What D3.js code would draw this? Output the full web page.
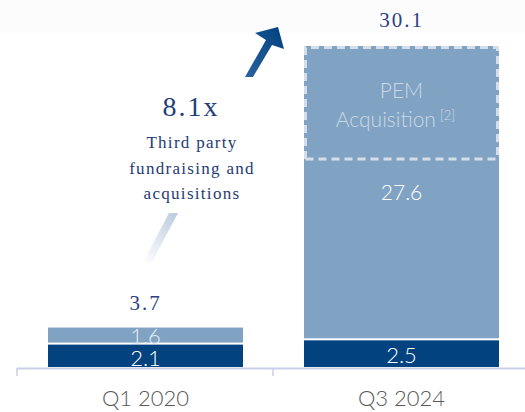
<!DOCTYPE html>
<html><head><meta charset="utf-8">
<script src="https://cdn.jsdelivr.net/npm/d3@7/dist/d3.min.js"></script>
<style>body{margin:0;background:#fff}svg{display:block}</style>
</head><body>
<svg id="c" width="525" height="412"></svg>
<script>
const categories = ["Q1 2020", "Q3 2024"];
const ownValues = [2.1, 2.5];
const thirdPartyValues = [1.6, 27.6];
const totals = ["3.7", "30.1"];
const pemValue = 10.6;
const multipleLabel = "8.1x";
const noteLines = ["Third party", "fundraising and", "acquisitions"];

const svg = d3.select("#c");
const W = 525, H = 412;
const darkC = "#02427f", lightC = "#81a3c3";
const sansF = "'Lato Light', Lato, sans-serif";

svg.append("rect").attr("x",0).attr("y",0).attr("width",W).attr("height",33).attr("fill","#fcfcfc");

const x = d3.scaleBand().domain(categories).range([17, 529]).paddingInner(0).paddingOuter(0);
const y = d3.scaleLinear().domain([0, 30.1]).range([367, 46]);
const barPad = 31, barW = 195;

const defs = svg.append("defs");
const g1 = defs.append("linearGradient").attr("id","arrowG").attr("x1","0").attr("y1","1").attr("x2","1").attr("y2","0");
g1.append("stop").attr("offset","0").attr("stop-color","#2a62a0");
g1.append("stop").attr("offset","1").attr("stop-color","#00407e");
const g2 = defs.append("linearGradient").attr("id","slashG").attr("x1","1").attr("y1","0").attr("x2","0").attr("y2","1");
g2.append("stop").attr("offset","0").attr("stop-color","#b9cade");
g2.append("stop").attr("offset","1").attr("stop-color","#ffffff");

const data = categories.map((c,i)=>({c, own: ownValues[i], tp: thirdPartyValues[i], total: totals[i]}));

const bars = svg.append("g");
data.forEach((d,i)=>{
  const bx = x(d.c) + barPad;
  bars.append("rect").attr("x",bx).attr("width",barW)
    .attr("y",y(d.own)).attr("height",y(0)-y(d.own)).attr("fill",darkC);
  bars.append("rect").attr("x",bx).attr("width",barW)
    .attr("y",y(d.own+d.tp)).attr("height",y(d.own)-y(d.own+d.tp)-2).attr("fill",lightC);
  bars.append("text").attr("x",bx+barW/2).attr("y", i===0 ? 366 : 363)
    .attr("text-anchor","middle").attr("fill","#ffffff")
    .attr("font-family",sansF).attr("font-size",22).attr("font-weight",300)
    .text(d3.format(".1f")(d.own));
  bars.append("text").attr("x",bx+barW/2).attr("y", i===0 ? 344 : 200)
    .attr("text-anchor","middle").attr("fill", i===0 ? "#e6edf5" : "#ffffff")
    .attr("font-family",sansF).attr("font-size", i===0 ? 22 : 21).attr("font-weight",300)
    .text(d3.format(".1f")(d.tp));
  bars.append("text").attr("x",bx+barW/2).attr("y", y(d.own+d.tp) - (i===0 ? 18 : 19))
    .attr("text-anchor","middle").attr("fill","#2e3f86")
    .attr("font-family","'Liberation Serif', serif").attr("font-size",21).attr("letter-spacing",2)
    .text(d.total);
});

const bx2 = x(categories[1]) + barPad;
const top2 = y(ownValues[1] + thirdPartyValues[1]);
const pemY = y(ownValues[1] + thirdPartyValues[1] - pemValue);
svg.append("path")
  .attr("d", `M${bx2+1.5},${pemY} L${bx2+1.5},${top2+1.5} L${bx2+barW-1.5},${top2+1.5} L${bx2+barW-1.5},${pemY} M${bx2+1.5},${pemY} L${bx2+barW-1.5},${pemY}`)
  .attr("fill","none").attr("stroke","#d3deea").attr("stroke-width",3).attr("stroke-dasharray","8,5");
const pemT = svg.append("text").attr("x",bx2+barW/2).attr("text-anchor","middle")
  .attr("fill","#c9d7e7").attr("font-family",sansF).attr("font-size",21).attr("font-weight",300);
pemT.append("tspan").attr("x",bx2+barW/2).attr("y",98).text("PEM");
const t2 = svg.append("text").attr("x",bx2+barW/2 - 6).attr("y",127).attr("text-anchor","middle")
  .attr("fill","#c9d7e7").attr("font-family",sansF).attr("font-size",21).attr("font-weight",300);
t2.append("tspan").text("Acquisition");
t2.append("tspan").attr("font-size",13).attr("dy",-7).attr("dx",4).text("[2]");

const ax = svg.append("g");
ax.append("line").attr("x1",17).attr("x2",525).attr("y1",368.5).attr("y2",368.5).attr("stroke","#c8d1e8").attr("stroke-width",2);
[17, 273].forEach(tx=>{
  ax.append("line").attr("x1",tx).attr("x2",tx).attr("y1",368).attr("y2",376).attr("stroke","#c8d1e8").attr("stroke-width",1.5);
});
data.forEach(d=>{
  ax.append("text").attr("x", x(d.c)+barPad+barW/2).attr("y",406).attr("text-anchor","middle")
    .attr("fill","#5a5a5a").attr("font-family",sansF).attr("font-size",22).attr("font-weight",300)
    .text(d.c);
});

svg.append("text").attr("x",191).attr("y",116).attr("text-anchor","middle")
  .attr("fill","#1f3f7a").attr("font-family","'Liberation Serif', serif").attr("font-size",28).attr("letter-spacing",2)
  .text(multipleLabel);
noteLines.forEach((l,i)=>{
  svg.append("text").attr("x",192).attr("y",148 + i*25.5).attr("text-anchor","middle")
    .attr("fill","#1f3b73").attr("font-family","'Liberation Serif', serif").attr("font-size",17).attr("letter-spacing",1.3)
    .text(l);
});

svg.append("path")
  .attr("d","M245,77 L253,77 L272,45 L284,49 L278,27 L255,33 L266,40 Z")
  .attr("fill","url(#arrowG)");
svg.append("path")
  .attr("d","M169,213 L178,213 L152,262 L143,262 Z")
  .attr("fill","url(#slashG)");
</script>
</body></html>
